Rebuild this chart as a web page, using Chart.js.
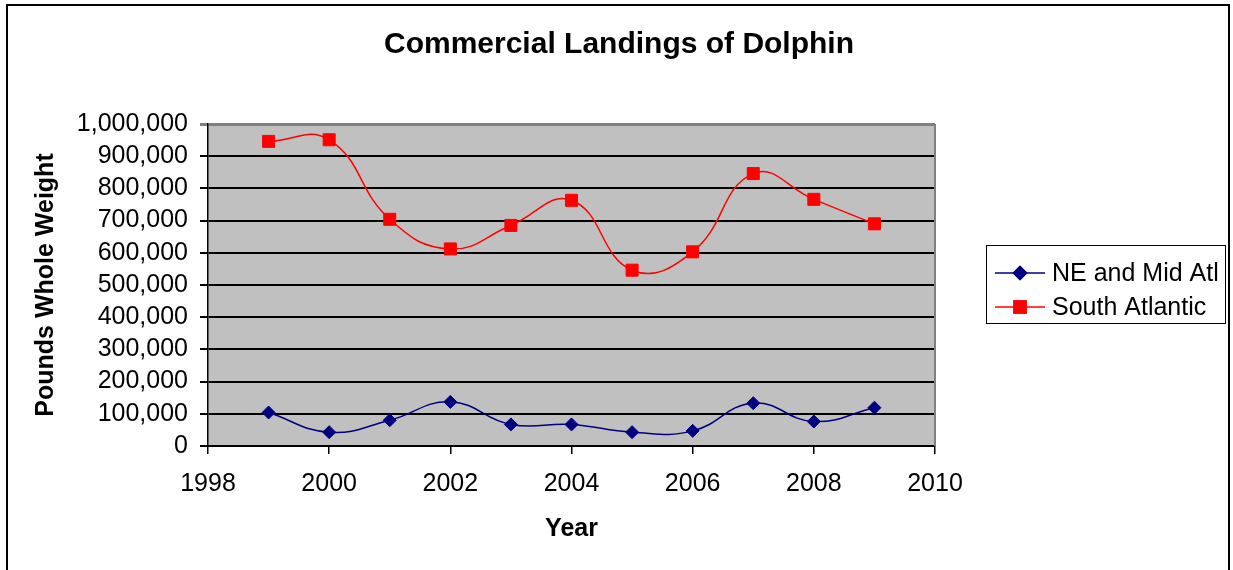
<!DOCTYPE html>
<html>
<head>
<meta charset="utf-8">
<title>Commercial Landings of Dolphin</title>
<script src="https://cdn.jsdelivr.net/npm/chart.js@4.4.0/dist/chart.umd.min.js"></script>
<style>
  body { margin: 0; background: #fff; }
  canvas { display: block; }
</style>
</head>
<body>
<canvas id="myChart" width="1233" height="570"></canvas>
<script>
var years = [1999, 2000, 2001, 2002, 2003, 2004, 2005, 2006, 2007, 2008, 2009]
var neMidAtl = [104000, 43000, 80000, 137000, 67000, 67000, 43000, 47000, 133000, 76000, 119000]
var southAtlantic = [946000, 951000, 704000, 612000, 685000, 763000, 546000, 603000, 846000, 766000, 690000]
var seriesNames = ['NE and Mid Atl', 'South Atlantic']
var chartTitle = 'Commercial Landings of Dolphin'
var xTitle = 'Year'
var yTitle = 'Pounds Whole Weight'

var fontFamily = '"Liberation Sans", Arial, sans-serif'

function toPoints(values) {
  return values.map((v, i) => ({ x: years[i], y: v }))
}

// gray plot area, outer frame, title and the boxed legend on the right
const excelLook = {
  id: 'excelLook',
  beforeDraw(chart) {
    const { ctx, chartArea: a } = chart
    ctx.save()
    ctx.fillStyle = '#ffffff'
    ctx.fillRect(0, 0, chart.width, chart.height)
    ctx.fillStyle = '#c0c0c0'
    ctx.fillRect(a.left, a.top, a.right - a.left, a.bottom - a.top)
    ctx.restore()
  },
  afterDraw(chart) {
    const { ctx, chartArea: a } = chart
    ctx.save()
    // plot border right side
    ctx.strokeStyle = '#808080'
    ctx.lineWidth = 2
    ctx.beginPath()
    ctx.moveTo(a.right, a.top)
    ctx.lineTo(a.right, a.bottom)
    ctx.stroke()

    // outer frame
    ctx.strokeStyle = '#000'
    ctx.lineWidth = 2
    ctx.beginPath()
    ctx.moveTo(7, 580)
    ctx.lineTo(7, 5)
    ctx.lineTo(1229, 5)
    ctx.lineTo(1229, 580)
    ctx.stroke()

    // title
    ctx.fillStyle = '#000'
    ctx.font = 'bold 30px ' + fontFamily
    ctx.textAlign = 'center'
    ctx.textBaseline = 'middle'
    ctx.fillText(chartTitle, 619, 45)

    // legend
    ctx.lineWidth = 1
    ctx.strokeStyle = '#000'
    ctx.strokeRect(986.5, 245.5, 239, 78)
    ctx.font = '25px ' + fontFamily
    ctx.textAlign = 'left'
    chart.data.datasets.forEach((ds, i) => {
      const y = 273 + i * 34
      ctx.strokeStyle = ds.borderColor
      ctx.lineWidth = 1.5
      ctx.beginPath()
      ctx.moveTo(995, y)
      ctx.lineTo(1045, y)
      ctx.stroke()
      Chart.helpers.drawPoint(ctx, {
        pointStyle: ds.pointStyle,
        radius: ds.pointRadius,
        borderWidth: 1
      }, 1020, y)
      ctx.fillStyle = ds.backgroundColor
      ctx.strokeStyle = ds.borderColor
      ctx.fill()
      ctx.stroke()
      ctx.fillStyle = '#000'
      ctx.fillText(ds.label, 1052, y + 1)
    })
    ctx.restore()
  }
}

let ctx = document.getElementById('myChart').getContext('2d')
let myChart = new Chart(ctx, {
  type: 'line',
  data: {
    datasets: [
      {
        label: seriesNames[0],
        data: toPoints(neMidAtl),
        borderColor: '#000080',
        backgroundColor: '#000080',
        borderWidth: 1.5,
        pointStyle: 'rectRot',
        pointRadius: 6.5,
        pointBorderWidth: 1,
        tension: 0.45,
      },
      {
        label: seriesNames[1],
        data: toPoints(southAtlantic),
        borderColor: '#ff0000',
        backgroundColor: '#ff0000',
        borderWidth: 1.5,
        pointStyle: 'rect',
        pointRadius: 8.5,
        pointBorderWidth: 1,
        tension: 0.45,
      },
    ],
  },
  options: {
    responsive: false,
    animation: false,
    layout: {
      padding: { left: 27, right: 298, top: 124, bottom: 22 },
    },
    plugins: {
      legend: { display: false },
      title: { display: false },
      tooltip: { enabled: false },
    },
    scales: {
      x: {
        type: 'linear',
        min: 1998,
        max: 2010,
        afterFit: (scale) => { scale.height = 102 },
        border: { color: '#000', width: 2 },
        grid: {
          drawOnChartArea: false,
          drawTicks: true,
          tickLength: 8,
          color: '#000',
          lineWidth: 1.5,
        },
        ticks: {
          stepSize: 2,
          padding: 15,
          autoSkip: false,
          color: '#000',
          font: { family: fontFamily, size: 25 },
          callback: (v) => String(v),
          maxRotation: 0,
        },
        title: {
          display: true,
          text: xTitle,
          color: '#000',
          font: { family: fontFamily, size: 25, weight: 'bold' },
        },
      },
      y: {
        min: 0,
        max: 1000000,
        afterFit: (scale) => { scale.width = 181 },
        border: { color: '#000', width: 1.5 },
        grid: {
          drawTicks: true,
          tickLength: 8,
          color: (c) => (c.tick && c.tick.value === 1000000 ? '#808080' : '#000'),
          lineWidth: (c) => (c.tick && c.tick.value === 1000000 ? 3 : 2),
        },
        ticks: {
          stepSize: 100000,
          padding: 12,
          autoSkip: false,
          color: '#000',
          font: { family: fontFamily, size: 25 },
          callback: (v) => v.toLocaleString('en-US'),
        },
        title: {
          display: true,
          text: yTitle,
          color: '#000',
          font: { family: fontFamily, size: 25, weight: 'bold' },
        },
      },
    },
  },
  plugins: [excelLook],
})
</script>
</body>
</html>
